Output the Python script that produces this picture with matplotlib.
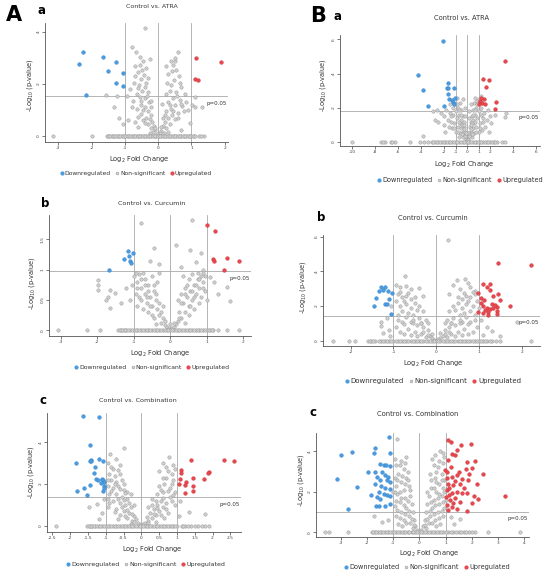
import matplotlib
matplotlib.use('Agg')
from matplotlib import pyplot as plt
from matplotlib.lines import Line2D
from matplotlib import transforms

W, H = 550, 579
BLUE = '#4a9be0'
RED = '#e8474c'
GREY_FACE = '#cfcfcf'
GREY_EDGE = '#9c9c9c'

# ---------------- A-a : Control vs. ATRA ----------------
aa_down_x = [-2.25, -2.37, -1.67, -1.28, -1.51, -1.07, -1.26, -1.07, -2.16]
aa_down_y = [3.22, 2.78, 3.04, 2.84, 2.52, 2.44, 2.06, 1.94, 1.59]
aa_up_x = [1.14, 1.88, 1.12, 1.21]
aa_up_y = [3.01, 2.84, 2.19, 2.14]
aa_ns_x = [-0.38, -0.79, -0.66, 0.59, -0.55, -0.45, 0.38, 0.45, -0.7, -0.35, 0.55, -0.6, -0.42, 0.3,
           -0.5, -0.3, 0.62, 0.48, -0.72, -0.58, -0.4, 0.4, 0.7, -0.85, -0.47, -0.3, 0.35, 0.55, -0.65,
           0.25, 0.8, -0.55, -0.38, 0.45, 0.65, -0.75, -0.28, 0.3, -0.5, 0.5, 0.72, -0.4, -0.62, 0.38,
           -0.3, 0.25, 0.6, -0.5, -0.22, 0.42, -0.35, 0.3, 0.52, -0.45, -0.18, 0.2, -0.3, 0.35, -0.12,
           0.15, -0.22, 0.25, -0.08, 0.1, -0.15, 0.05, -0.03, 0.18, -0.25, -1.56, -1.24, -0.95, -1.32,
           -1.19, -1.05, 1.10, 1.33, 1.12, 1.02, 0.9, 0.95, -0.6, 0.68, -0.2, 0.12, -0.9, 0.85,
           -0.52, -0.45, -0.6, -0.4, -0.25, -0.33, -0.6, -0.48, -0.7, -0.36, 0.28, 0.42, 0.5, 0.65,
           0.58, 0.35, 0.45, 0.6, 0.2, 0.3, -0.1, 0.08, -0.2, 0.7, 0.78, -0.78, -0.7, 0.15, -0.55,
           0.52, 0.25, -0.25]
aa_ns_y = [4.15, 3.41, 3.25, 3.22, 3.05, 2.9, 2.9, 2.75, 2.7, 2.6, 2.55, 2.45, 2.35, 2.4,
           2.2, 2.25, 2.3, 2.15, 2.05, 1.95, 1.9, 1.95, 1.9, 1.8, 1.75, 1.7, 1.75, 1.7, 1.6,
           1.6, 1.6, 1.5, 1.45, 1.45, 1.4, 1.35, 1.3, 1.3, 1.2, 1.2, 1.15, 1.1, 1.05, 1.05,
           0.95, 0.95, 0.9, 0.85, 0.8, 0.8, 0.7, 0.7, 0.65, 0.6, 0.55, 0.55, 0.45, 0.45, 0.4,
           0.38, 0.3, 0.3, 0.22, 0.2, 0.15, 0.12, 0.06, 0.1, 0.12, 1.56, 1.54, 1.55, 1.13,
           0.68, 0.45, 1.52, 1.13, 1.1, 1.2, 1.0, 0.5, 0.35, 0.25, 1.35, 1.25, 0.6, 1.3,
           1.35, 1.0, 0.75, 0.5, 0.65, 1.55, 1.85, 2.55, 2.3, 2.05, 2.05, 2.5, 2.9, 2.05,
           1.55, 1.2, 0.95, 0.7, 0.8, 0.15, 0.3, 0.35, 1.1, 1.25, 0.95, 1.1, 0.55, 0.7, 2.75,
           3.0, 2.7, 2.95]
aa_zero_x = [-3.15, -2.0, -1.55, -1.48, -1.4, -1.33, -1.25, -1.18, -1.1, -1.03, -0.95, -0.88, -0.8,
             -0.73, -0.65, -0.58, -0.5, -0.43, -0.35, -0.28, -0.2, -0.13, -0.05, 0.03, 0.1, 0.18,
             0.25, 0.33, 0.4, 0.48, 0.55, 0.63, 0.7, 0.78, 0.85, 0.93, 1.0, 1.08, 1.22, 1.38,
             -1.51, -1.44, -1.36, -1.29, -1.21, -1.14, -1.06, -0.99, -0.91, -0.84, -0.76, -0.69,
             -0.61, -0.54, -0.46, -0.39, -0.31, -0.24, -0.16, -0.09, -0.01, 0.06, 0.14, 0.21, 0.29,
             0.36, 0.44, 0.51, 0.59, 0.66, 0.74, 0.81, 0.89, 0.96, 1.04, 1.12, 1.3]

# ---------------- B-a : Control vs. ATRA ----------------
ba_down_x = [-2.07, -4.25, -3.84, -3.38, -1.99, -1.64, -1.75, -1.64, -1.17, -1.64, -1.55, -1.35,
             -1.2, -1.1, -1.05]
ba_down_y = [5.92, 3.93, 3.03, 2.09, 2.09, 3.42, 3.13, 3.17, 3.17, 2.83, 2.54, 2.45, 2.35, 2.25, 2.6]
ba_up_x = [3.30, 1.41, 1.93, 1.64, 1.15, 1.3, 1.45, 1.05, 2.49, 2.43, 1.2, 1.6]
ba_up_y = [4.75, 3.67, 3.65, 3.19, 2.4, 2.3, 2.5, 2.2, 2.31, 1.95, 2.6, 2.2]
ba_ns_x = [-1.8, -1.5, -1.2, -1.0, -0.8, -0.6, -0.9, -0.7, -0.5, -0.4, -0.3, -0.6, -0.8, -1.1, -1.4,
           -1.7, -2.0, -2.3, -2.6, -3.0, -3.82, -2.5, -0.5, -0.35, -0.2, -0.1, -0.25, -0.15, -0.4,
           -0.6, -1.0, -1.3, -0.7, 0.1, 0.2, 0.35, 0.5, 0.25, 0.15, 0.4, 0.6, 1.0, 0.3, 0.4, 0.5, 0.6,
           0.8, 1.0, 0.7, 0.9, 1.2, 1.5, 1.8, 0.6, 0.8, 1.1, 1.4, 1.7, 2.0, 2.4, 0.7, 1.2, 0.9, -1.1,
           -0.4, 3.3, 3.4, -0.05, 0.05, 1.3, 1.6, -1.6, -2.0, 2.1, -0.9, 0.3, -0.2, 0.2, -0.45, 0.45,
           -0.3, -0.5, -0.7, -0.9, -1.2, -1.5, -0.45, -0.15, -0.8, -1.1, -1.9, -2.8, 0.3, 0.5, 0.7,
           0.9, 1.2, 0.45, 0.15, 0.8, 1.1, 1.9, 0.55, -0.55, -0.3, 0.3, 0.7, -0.7, 0.1, -0.1, 1.0,
           -0.2, 0.2, -1.4, 1.4]
ba_ns_y = [1.9, 1.7, 1.6, 1.8, 2.0, 2.3, 1.4, 1.6, 1.9, 1.5, 1.2, 1.1, 0.9, 1.1, 1.2,
           1.3, 1.5, 1.7, 1.9, 1.8, 0.33, 1.2, 0.8, 0.6, 0.4, 0.2, 0.9, 0.6, 0.3,
           0.5, 0.6, 0.8, 0.3, 0.2, 0.4, 0.6, 0.8, 0.9, 0.5, 0.3, 0.5, 0.6, 1.2, 1.5, 1.9, 2.3,
           2.0, 1.8, 1.6, 1.4, 1.6, 1.7, 1.9, 1.1, 0.9, 1.1, 1.2, 1.3, 1.5, 1.6, 2.6, 2.7, 2.4, 2.2,
           2.5, 1.47, 1.7, 0.05, 0.1, 0.7, 0.9, 0.9, 1.0, 1.1, 2.6, 2.2, 1.5, 1.4, 1.0, 1.1,
           1.0, 1.3, 1.9, 2.2, 2.0, 2.2, 0.45, 0.35, 0.6, 0.8, 0.6, 1.3, 1.0, 1.3, 1.9,
           2.2, 2.0, 0.45, 0.35, 0.6, 0.8, 0.6, 1.6, 1.6, 0.75, 0.75, 1.2, 1.2, 0.5, 0.5, 2.5,
           2.0, 1.8, 1.5, 1.4]
ba_zero_x = [-10, -7.5, -7.15, -6.66, -6.28, -4.98, -4.1, -3.73, -3.44, -3.1, -2.8, -2.5, -2.2, -1.9,
             -1.6, -1.3, -1.0, -0.7, -0.4, -0.1, 0.2, 0.5, 0.8, 1.1, 1.4, 1.7, 2.0, 2.3, 2.6, 3.0, 3.3,
             -2.95, -2.65, -2.35, -2.05, -1.75, -1.45, -1.15, -0.85, -0.55, -0.25, 0.05, 0.35, 0.65,
             0.95, 1.25, 1.55, 1.85, 2.15, 2.45, -7.3, -6.5]

# ---------------- A-b : Control vs. Curcumin ----------------
ab_down_x = [-1.15, -1.26, -1.13, -1.02, -1.10, -1.07, -1.67]
ab_down_y = [1.31, 1.17, 1.22, 1.28, 1.15, 1.11, 0.99]
ab_up_x = [1.0, 1.23, 1.18, 1.20, 1.54, 1.89, 1.48]
ab_up_y = [1.73, 1.64, 1.17, 1.15, 1.19, 1.15, 1.0]
ab_ns_x = [-0.81, 0.59, 0.16, -0.44, 0.54, 0.83, -0.3, 0.3, -0.55, 0.7, 0.9,
           -1.99, -1.99, -1.99, -1.65, -1.5, -1.7, -1.75, -1.65, -1.35, 1.63, 1.55, 1.2, 1.3, 1.1,
           -1.0, -0.9, -1.05, -0.85, -0.7, -0.8, -0.95, -0.6, -0.7, -0.55, -0.8, -0.65, -0.45, -0.5,
           -0.4, -0.35, -0.6, -0.3, -0.45, -0.2, -0.25, -0.15, -0.1, -0.35, -0.5, -0.2, -0.75, -0.9,
           0.05, 0.1, 0.15, 0.2, 0.3, 0.25, 0.4, 0.35, 0.5, 0.45, 0.6, 0.55, 0.7, 0.65, 0.8, 0.75,
           0.9, 0.85, 0.95, 0.4, 0.2, 0.5, 0.3, 0.65, 0.8, 0.95, 0.6, -0.05, 0.0, -0.4, 0.4,
           -0.95, -0.75, -0.9, -0.85, -0.7, -0.6, -0.55, -0.4, -0.3, -0.25, -0.5, -0.65, -0.8, -0.45,
           0.9, 0.75, 0.9, 0.85, 0.7, 0.6, 0.55, 0.4, 0.3, 0.25, 0.5, 0.65, 0.8, 0.45, -0.15, 0.1,
           -1.1, -1.2, 1.0, 0.35, -0.3]
ab_ns_y = [1.77, 1.81, 1.41, 1.35, 1.32, 1.27, 1.1, 1.05, 1.15, 1.12, 1.0,
           0.83, 0.74, 0.66, 0.67, 0.62, 0.55, 0.5, 0.36, 0.45, 0.49, 0.72, 0.8, 0.6, 0.88,
           0.9, 0.8, 0.75, 0.92, 0.85, 0.7, 0.6, 0.75, 0.6, 0.55, 0.5, 0.45, 0.65, 0.4,
           0.5, 0.35, 0.3, 0.25, 0.2, 0.2, 0.12, 0.08, 0.05, 0.8, 0.9, 0.4, 0.35, 0.4,
           0.03, 0.06, 0.1, 0.15, 0.2, 0.3, 0.3, 0.45, 0.4, 0.55, 0.5, 0.65, 0.6, 0.75, 0.7, 0.85,
           0.8, 0.9, 0.65, 0.7, 0.5, 0.85, 0.6, 0.35, 0.45, 0.9, 0.92, 0.02, 0.1, 0.1, 0.12,
           0.95, 0.95, 0.7, 0.55, 0.75, 0.65, 0.4, 0.6, 0.45, 0.3, 0.25, 0.55, 0.85, 0.75,
           0.95, 0.95, 0.7, 0.55, 0.75, 0.65, 0.4, 0.6, 0.45, 0.2, 0.25, 0.55, 0.85, 0.75, 0.15, 0.12,
           0.5, 0.7, 0.5, 0.9, 0.95]
ab_zero_x = [-3.06, -2.29, -1.92, -1.42, -1.35, -1.28, -1.2, -1.1, -1.0, -0.9, -0.8, -0.7, -0.6,
             -0.5, -0.4, -0.3, -0.2, -0.1, 0.0, 0.1, 0.2, 0.3, 0.4, 0.5, 0.6, 0.7, 0.8, 0.9, 1.0,
             1.1, 1.18, 1.32, 1.54, 1.89, -1.38, -1.31, -1.24, -1.15, -1.05, -0.95, -0.85, -0.75,
             -0.65, -0.55, -0.45, -0.35, -0.25, -0.15, -0.05, 0.05, 0.15, 0.25, 0.35, 0.45, 0.55,
             0.65, 0.75, 0.85, 0.95, 1.05, 1.14]

# ---------------- B-b : Control vs. Curcumin ----------------
bb_down_x = [-1.30, -1.19, -1.34, -1.24, -1.13, -1.03, -1.42, -1.10, -1.20, -1.16, -1.45, -1.05]
bb_down_y = [3.13, 3.13, 2.85, 2.94, 2.88, 2.75, 2.46, 2.40, 2.13, 2.13, 2.0, 1.54]
bb_up_x = [1.44, 2.23, 0.98, 1.10, 1.26, 1.04, 1.12, 1.20, 1.26, 1.34, 1.44, 1.10, 1.18, 1.26,
           1.34, 1.22, 1.42, 1.73, 0.98, 1.10, 1.22, 1.42, 1.43, 1.05, 1.30, 1.50, 1.15, 1.38]
bb_up_y = [4.48, 4.38, 2.75, 3.29, 3.29, 2.46, 2.37, 3.08, 2.92, 2.60, 2.71, 2.00, 1.90, 1.81,
           1.87, 1.67, 1.94, 1.98, 1.65, 1.63, 1.50, 1.73, 1.56, 2.20, 2.15, 2.35, 1.80, 2.05]
bb_ns_x = [0.28, -0.72, 0.48, 0.67, 0.75, -0.95, -0.85, -0.7, -0.6, -0.4, 0.4, 0.55, 0.8, 0.9,
           -0.9, -0.8, -0.7, -0.6, -0.5, -0.95, -0.85, -0.7, -0.6, -0.45, -0.3, -0.8, -0.9, -0.7,
           -0.55, -0.4, -0.25, -0.6, -0.8, -0.45, -0.3, -0.2, -0.65, -0.5, -0.35, -0.15, -0.1, -0.25,
           -0.75, -0.95, 0.1, 0.15, 0.25, 0.2, 0.35, 0.5, 0.3, 0.45, 0.65, 0.75, 0.25, 0.4, 0.55,
           0.6, 0.8, 0.7, 0.9, 0.3, 0.45, 0.6, 0.8, 0.7, 0.85, 0.95, 0.5, 0.6, 0.7, 0.8, 0.9, 0.95,
           -1.3, -1.3, -1.25, -1.1, -1.08, 1.9, 1.5, 1.2, 1.3, 1.1, -1.15, 1.05, -0.05, 0.05,
           -0.35, 0.35, -0.55, 0.55, -0.2, 0.2,
           -0.85, -0.75, -0.65, -0.5, -0.4, -0.55, -0.35, -0.9, -0.75, -0.6, -0.45, -0.3, -0.85,
           -0.65, -0.2, 0.85, 0.75, 0.65, 0.5, 0.4, 0.55, 0.35, 0.9, 0.75, 0.6, 0.45, 0.3, 0.85,
           0.65, 0.2, -0.3, 0.3, -1.05, 1.0, -0.1, 0.1]
bb_ns_y = [5.79, 3.71, 3.52, 3.56, 3.35, 3.2, 3.1, 3.15, 3.0, 3.05, 3.2, 3.0, 3.1, 2.9,
           2.7, 2.5, 2.6, 2.4, 2.2, 2.3, 2.0, 2.1, 1.9, 1.8, 1.7, 1.7, 1.5, 1.4,
           1.5, 1.3, 1.2, 1.1, 1.1, 0.9, 0.8, 0.6, 0.7, 0.5, 0.4, 0.3, 0.15, 0.2,
           0.4, 0.8, 0.15, 0.3, 0.2, 0.6, 0.4, 0.5, 0.8, 0.9, 0.7, 0.4, 1.2, 1.3, 1.5,
           1.1, 1.1, 1.4, 1.5, 1.7, 1.8, 1.9, 1.7, 2.1, 2.0, 2.3, 2.2, 2.4, 2.6, 2.5, 2.7, 0.8,
           1.1, 0.83, 0.44, 0.6, 0.25, 1.08, 0.3, 0.8, 0.55, 0.35, 1.3, 1.2, 0.05, 0.08,
           1.0, 1.0, 1.0, 1.0, 0.35, 0.4,
           2.8, 2.3, 2.75, 2.5, 2.0, 1.2, 1.0, 1.2, 0.95, 0.35, 0.25, 0.5, 0.5,
           1.6, 1.0, 2.8, 2.3, 2.75, 2.5, 2.0, 1.2, 1.0, 1.2, 0.95, 0.35, 0.25, 0.5, 0.5,
           1.6, 1.0, 2.6, 2.7, 2.0, 1.9, 0.4, 0.45]
bb_zero_x = [-2.41, -2.05, -1.9, -1.6, -1.52, -1.44, -1.3, -1.2, -1.1, -1.0, -0.9, -0.8, -0.7,
             -0.6, -0.5, -0.4, -0.3, -0.2, -0.1, 0.0, 0.1, 0.2, 0.3, 0.4, 0.5, 0.6, 0.7, 0.8,
             0.9, 1.0, 1.1, 1.2, 1.3, 1.5, 2.23, -1.56, -1.48, -1.35, -1.25, -1.15, -1.05, -0.95,
             -0.85, -0.75, -0.65, -0.55, -0.45, -0.35, -0.25, -0.15, -0.05, 0.05, 0.15, 0.25,
             0.35, 0.45, 0.55, 0.65, 0.75, 0.85, 0.95, 1.05, 1.15, 1.25, 1.4]

# ---------------- A-c : Control vs. Combination ----------------
ac_down_x = [-1.65, -1.18, -1.44, -1.84, -1.42, -1.45, -1.40, -1.18, -1.09, -1.31, -1.33, -1.26,
             -1.23, -1.10, -1.07, -1.05, -1.12, -1.82, -1.62, -1.43, -1.52, -1.09, -1.04, -1.06]
ac_down_y = [5.24, 5.19, 3.87, 2.99, 3.15, 3.10, 3.08, 3.18, 3.10, 2.80, 2.51, 2.22,
             2.18, 2.22, 2.20, 2.10, 2.05, 1.65, 1.83, 1.94, 1.45, 1.65, 1.90, 1.80]
ac_up_x = [1.40, 2.31, 2.59, 1.12, 1.12, 1.89, 1.86, 1.45, 1.77, 1.09, 1.26, 1.23, 1.07, 1.45,
           1.45, 1.23]
ac_up_y = [3.15, 3.15, 3.08, 2.67, 2.51, 2.59, 2.54, 2.30, 2.26, 2.23, 2.10, 1.94, 1.98, 1.90,
           1.67, 1.59]
ac_ns_x = [-0.49, -0.88, 0.79, -0.7, -0.95, -0.6, -0.8, 0.6, 0.7, 0.5, 0.9,
           -0.9, -0.75, -0.6, -0.85, -0.7, -0.55, -0.95, -0.8, -0.65, -0.5, -0.9, -0.7, -0.55, -0.4,
           -0.8, -0.6, -0.45, -0.3, -0.7, -0.5, -0.35, -0.2, -0.6, -0.4, -0.25, -0.1, -0.15, -0.3,
           -0.05, 0.05, 0.1, 0.2, 0.15, 0.3, 0.25, 0.4, 0.35, 0.5, 0.45, 0.6, 0.55, 0.7, 0.3, 0.45,
           0.6, 0.8, 0.5, 0.65, 0.8, 0.9, 0.7, 0.85, 0.95, 0.95, 0.75, -0.95, -1.47, -1.24, -1.18,
           1.8, 1.33, -1.05, 1.1, -1.1, 1.05, 0.2, -0.2, -0.65, 0.4, -0.4, 0.65,
           -0.85, -0.65, -0.75, -0.6, -0.85, -0.45, -0.65, -0.9, -0.5, -0.35, -0.55, -0.4, -0.25,
           -0.75, -0.45, -0.2, 0.2, 0.35, 0.55, 0.45, 0.6, 0.7, 0.85, 0.75, 0.55, 0.4, 0.85, 0.6,
           0.75, 0.9, -0.95, -0.95, -0.3, 0.3, 0.95, -0.5]
ac_ns_y = [3.71, 3.44, 3.28, 3.2, 3.0, 2.9, 2.7, 3.0, 2.8, 2.6, 2.9,
           2.5, 2.4, 2.5, 2.2, 2.1, 2.2, 1.9, 1.8, 1.9, 1.7, 1.5, 1.5, 1.4, 1.3,
           1.2, 1.1, 1.0, 0.9, 0.8, 0.7, 0.6, 0.45, 0.5, 0.35, 0.25, 0.15, 0.3, 0.1,
           0.05, 0.06, 0.15, 0.25, 0.4, 0.35, 0.6, 0.5, 0.8, 0.7, 1.0, 0.9, 1.2, 1.1, 1.3, 1.5,
           1.6, 1.4, 1.9, 2.0, 1.8, 2.2, 2.3, 2.5, 1.6, 1.0, 0.6, 0.9, 0.9, 1.06, 0.34,
           0.58, 0.66, 1.3, 1.2, 0.6, 0.45, 0.9, 1.0, 0.3, 0.2, 1.6, 0.35,
           2.8, 2.65, 2.0, 1.75, 1.65, 1.55, 1.3, 1.1, 1.25, 1.1, 0.9, 0.75, 0.55,
           0.65, 0.45, 0.2, 0.15, 0.55, 0.5, 0.85, 1.35, 0.8, 1.2, 1.65, 1.7, 1.2, 2.0, 2.3,
           2.6, 1.45, 2.2, 1.3, 1.5, 1.0, 2.7, 2.0]
ac_zero_x = [-2.41, -1.52, -1.45, -1.38, -1.3, -1.2, -1.1, -1.0, -0.9, -0.8, -0.7, -0.6, -0.5,
             -0.4, -0.3, -0.2, -0.1, 0.0, 0.1, 0.2, 0.3, 0.4, 0.5, 0.6, 0.7, 0.8, 0.9, 1.0,
             1.14, 1.22, 1.4, 1.6, 1.8, 1.89, -1.48, -1.42, -1.34, -1.25, -1.15, -1.05, -0.95,
             -0.85, -0.75, -0.65, -0.55, -0.45, -0.35, -0.25, -0.15, -0.05, 0.05, 0.15, 0.25,
             0.35, 0.45, 0.55, 0.65, 0.75, 0.85, 0.95, 1.18, 1.3, 1.5, 1.7]

# ---------------- B-c : Control vs. Combination ----------------
bc_down_x = [-1.15, -3.0, -2.58, -1.69, -1.73, -1.14, -3.13, -2.38, -1.84, -2.73,
             -1.50, -1.37, -1.27, -1.12, -1.97, -1.69, -1.43, -1.31, -1.18, -1.63, -1.50, -1.24,
             -1.12, -1.69, -1.46, -1.31, -1.12, -1.56, -1.37, -1.24, -1.12, -1.63, -1.50, -1.66,
             -1.54, -1.31, -1.12]
bc_down_y = [4.7, 3.8, 3.97, 4.16, 3.92, 3.92, 2.65, 2.24, 1.83, 1.14,
             3.39, 3.31, 3.31, 3.26, 2.99, 2.99, 2.98, 2.81, 2.73, 2.73, 2.57, 2.57,
             2.49, 2.37, 2.27, 2.21, 2.16, 1.99, 1.91, 1.83, 1.78, 1.74, 1.66, 1.28,
             1.28, 1.28, 1.42]
bc_up_x = [1.11, 1.21, 1.98, 1.43, 1.24, 1.37, 1.6, 1.11, 1.81, 2.13, 1.77, 2.0, 2.45, 0.98, 1.05,
           1.24, 1.43, 1.62, 1.87, 1.11, 1.3, 1.56, 2.19, 3.27, 2.1, 2.26, 1.05, 1.24, 1.43, 1.62,
           1.81, 1.02, 1.18, 1.37, 1.56, 2.0, 1.05, 1.24, 1.11, 1.43, 1.81, 1.15, 1.35, 1.5, 1.7,
           1.2, 1.05, 1.9, 1.3, 1.15]
bc_up_y = [4.54, 4.46, 4.35, 4.05, 3.88, 3.8, 4.3, 3.56, 3.47, 3.5, 3.14, 3.19, 2.9, 3.06, 2.98,
           2.73, 2.81, 2.65, 2.57, 2.4, 2.32, 2.37, 2.4, 1.79, 1.79, 1.66, 2.07, 1.95, 2.0, 1.92,
           1.95, 1.73, 1.6, 1.68, 1.5, 1.45, 1.34, 1.25, 1.08, 1.17, 1.04, 2.2, 2.55, 3.0, 2.2,
           3.2, 2.7, 2.9, 1.45, 1.85]
bc_ns_x = [-0.86, 0.8, 0.6, 0.5, -0.5, -0.7, -0.9, 0.9, 0.7, -0.6, -0.8, -0.95, 0.85, 0.95, -0.5,
           -0.7, -0.9, 0.6, 0.75, 0.9, -0.4, -0.6, -0.85, 0.45, 0.65, 0.85, -0.35, -0.55, -0.75,
           -0.95, 0.35, 0.55, 0.75, 0.95, -0.3, -0.5, -0.7, -0.9, 0.3, 0.5, 0.7, 0.9, -0.25, -0.4,
           -0.6, 0.25, 0.4, 0.6, -0.2, -0.35, 0.2, 0.35, -0.15, 0.15, -0.08, 0.08, -0.8, 0.8, -1.75,
           -1.43, -1.2, 1.34, 1.55, 1.2, -0.45, 0.4, -1.0, 1.0, -0.25, 0.25, -0.65, 0.65,
           -0.95, -0.75, -0.55, -0.85, -0.65, -0.45, -0.95, -0.75, -0.55, -0.7, -0.9, -0.45, -0.6,
           -0.85, -0.4, -0.55, -0.75, -0.3, -0.5, -0.2, 0.95, 0.75, 0.55, 0.85, 0.65, 0.45, 0.95,
           0.75, 0.55, 0.7, 0.9, 0.45, 0.6, 0.85, 0.4, 0.55, 0.75, 0.3, 0.5, 0.2, 0.65, -0.35, 0.3,
           0.9]
bc_ns_y = [4.59, 4.0, 3.8, 3.6, 3.7, 3.5, 3.3, 3.4, 3.2, 3.1, 2.9, 2.7, 2.9, 2.6, 2.7,
           2.5, 2.3, 2.7, 2.4, 2.2, 2.3, 2.1, 1.9, 2.2, 2.0, 1.8, 1.8, 1.7, 1.5,
           1.3, 1.8, 1.6, 1.4, 1.2, 1.4, 1.2, 1.0, 0.8, 1.4, 1.2, 1.0, 0.8, 1.0, 0.8,
           0.6, 1.0, 0.8, 0.6, 0.6, 0.45, 0.6, 0.45, 0.3, 0.3, 0.12, 0.12, 0.4, 0.4, 0.79,
           0.5, 0.6, 0.4, 0.68, 0.75, 3.0, 2.9, 2.0, 1.6, 0.2, 0.2, 0.3, 0.3,
           3.6, 3.3, 3.4, 2.6, 2.8, 2.6, 2.0, 2.0, 2.4, 1.7, 1.55, 1.55, 1.35,
           1.1, 1.05, 0.9, 0.7, 0.65, 0.45, 0.35, 3.7, 3.5, 3.3, 2.6, 2.5, 2.6, 2.0,
           1.9, 2.2, 1.7, 1.5, 1.5, 1.35, 1.05, 1.05, 0.9, 0.7, 0.65, 0.45, 0.35, 3.0, 2.1, 2.0,
           3.9]
bc_zero_x = [-3.6, -3.47, -2.71, -1.82, -1.7, -1.58, -1.45, -1.3, -1.18, -1.05, -0.9, -0.75, -0.6,
             -0.45, -0.3, -0.15, 0.0, 0.15, 0.3, 0.45, 0.6, 0.75, 0.9, 1.1, 1.3, 1.5, 1.7, 1.9,
             2.13, 2.64, 3.85, -1.76, -1.64, -1.52, -1.38, -1.24, -1.12, -0.98, -0.83, -0.68,
             -0.53, -0.38, -0.23, -0.08, 0.08, 0.23, 0.38, 0.53, 0.68, 0.83, 1.0, 1.2, 1.4, 1.6,
             1.8, 2.0]

titles = ['Control vs. ATRA', 'Control vs. Curcumin', 'Control vs. Combination']


def box(l, r, t, b):
    return [l / W, 1 - b / H, (r - l) / W, (b - t) / H]


def ftxt(x, y, s, **kw):
    fig.text(x / W, 1 - y / H, s, **kw)


fig = plt.figure(figsize=(W / 100, H / 100), dpi=100)

panels = [
    dict(b=(45, 228, 23, 142), xl=(-3.4, 2.1), yl=(-0.23, 4.35), xt=[-3, -2, -1, 0, 1, 2],
         yt=[0, 2, 4], thr=1.53, d=(aa_ns_x, aa_ns_y, aa_zero_x, aa_down_x, aa_down_y, aa_up_x, aa_up_y),
         tt=(152, 7, titles[0]), tfs=4.5, let=(42, 11, 'a'), xlab=(139, 160), ylab=(30, 85),
         leg=(136, 173), lfs=4.3),
    dict(b=(340, 540, 35, 146), xl=(-11.07, 6.35), yl=(-0.23, 6.25),
         xt=[-10, -8, -6, -4, -2, -1, 0, 1, 2, 4, 6], yt=[0, 2, 4, 6], thr=1.83,
         d=(ba_ns_x, ba_ns_y, ba_zero_x, ba_down_x, ba_down_y, ba_up_x, ba_up_y),
         tt=(462, 18, titles[0]), tfs=4.8, let=(337, 17, 'a'), xlab=(464, 165), ylab=(323, 85),
         leg=(460, 180), lfs=4.7),
    dict(b=(49, 251, 215, 336), xl=(-3.32, 2.21), yl=(-0.094, 1.9), xt=[-3, -2, -1, 0, 1, 2],
         yt=[0, 0.5, 1, 1.5], thr=0.98,
         d=(ab_ns_x, ab_ns_y, ab_zero_x, ab_down_x, ab_down_y, ab_up_x, ab_up_y),
         tt=(152, 203, titles[1]), tfs=4.6, let=(45, 204, 'b'), xlab=(160, 354), ylab=(32, 283),
         leg=(152, 367), lfs=4.4),
    dict(b=(323, 540, 235, 346), xl=(-2.65, 2.43), yl=(-0.3, 6.1), xt=[-2, -1, 0, 1, 2],
         yt=[0, 2, 4, 6], thr=1.44,
         d=(bb_ns_x, bb_ns_y, bb_zero_x, bb_down_x, bb_down_y, bb_up_x, bb_up_y),
         tt=(433, 218, titles[1]), tfs=4.8, let=(321, 217, 'b'), xlab=(433, 364), ylab=(303, 287),
         leg=(433, 381), lfs=5.0),
    dict(b=(47, 241, 413, 532), xl=(-2.65, 2.8), yl=(-0.3, 5.4),
         xt=[-2.5, -2, -1.5, -1, -0.5, 0, 0.5, 1, 1.5, 2, 2.5], yt=[0, 2, 4], thr=1.38,
         d=(ac_ns_x, ac_ns_y, ac_zero_x, ac_down_x, ac_down_y, ac_up_x, ac_up_y),
         tt=(138, 400, titles[2]), tfs=4.6, let=(43, 400, 'c'), xlab=(152, 550), ylab=(31, 472),
         leg=(146, 564), lfs=4.5),
    dict(b=(316, 529, 433, 537), xl=(-3.95, 4.19), yl=(-0.23, 4.9), xt=[-3, -2, -1, 0, 1, 2, 3, 4],
         yt=[0, 2, 4], thr=0.99,
         d=(bc_ns_x, bc_ns_y, bc_zero_x, bc_down_x, bc_down_y, bc_up_x, bc_up_y),
         tt=(418, 414, titles[2]), tfs=4.9, let=(313, 413, 'c'), xlab=(429, 554), ylab=(301, 480),
         leg=(427, 567), lfs=4.7),
]

for p in panels:
    ax = fig.add_axes(box(*p['b']))
    ns_x, ns_y, zero_x, dn_x, dn_y, up_x, up_y = p['d']
    for v in (-1, 0, 1):
        ax.axvline(v, color='#a8a8a8', lw=0.6, zorder=1)
    ax.axhline(p['thr'], color='#a8a8a8', lw=0.6, zorder=1)
    ax.scatter(ns_x, ns_y, s=6, facecolor=GREY_FACE, edgecolor=GREY_EDGE, linewidths=0.35, zorder=2)
    ax.scatter(zero_x, [0] * len(zero_x), s=6, facecolor=GREY_FACE, edgecolor=GREY_EDGE,
               linewidths=0.35, zorder=2)
    ax.scatter(dn_x, dn_y, s=7, color=BLUE, edgecolor='#2f7fc8', linewidths=0.3, zorder=3)
    ax.scatter(up_x, up_y, s=7, color=RED, edgecolor='#c9303a', linewidths=0.3, zorder=3)
    ax.set_xlim(*p['xl'])
    ax.set_ylim(*p['yl'])
    ax.set_xticks(p['xt'])
    ax.set_xticklabels([('%g' % t) for t in p['xt']])
    ax.set_yticks(p['yt'])
    ax.set_yticklabels([('%g' % t) for t in p['yt']], rotation=90, va='center')
    ax.tick_params(labelsize=3.2, length=2, width=0.5, pad=1.2, colors='#444444')
    for s in ('top', 'right'):
        ax.spines[s].set_visible(False)
    for s in ('left', 'bottom'):
        ax.spines[s].set_color('#555555')
        ax.spines[s].set_linewidth(0.6)
    trans = transforms.blended_transform_factory(ax.transAxes, ax.transData)
    ax.text(0.995, p['thr'] - (p['yl'][1] - p['yl'][0]) * 0.04, 'p=0.05', transform=trans,
            ha='right', va='top', fontsize=4, color='#333333')

    tx, ty, ts = p['tt']
    ftxt(tx, ty, ts, ha='center', va='center', fontsize=p['tfs'], color='#333333')
    lx, ly, ls = p['let']
    ftxt(lx, ly, ls, ha='center', va='center', fontsize=8.5, fontweight='bold')
    ftxt(*p['xlab'], 'Log$_2$ Fold Change', ha='center', va='center', fontsize=4.8, color='#333333')
    ftxt(*p['ylab'], '-Log$_{10}$ (p-value)', ha='center', va='center', fontsize=4.8,
         rotation=90, color='#333333')

    handles = [Line2D([], [], marker='o', ls='', ms=2, color=BLUE),
               Line2D([], [], marker='o', ls='', ms=2, markerfacecolor=GREY_FACE,
                      markeredgecolor=GREY_EDGE, markeredgewidth=0.4),
               Line2D([], [], marker='o', ls='', ms=2, color=RED)]
    gx, gy = p['leg']
    fig.legend(handles, ['Downregulated', 'Non-significant', 'Upregulated'], loc='center',
               bbox_to_anchor=(gx / W, 1 - gy / H), ncol=3, frameon=False, fontsize=p['lfs'],
               handlelength=0.5, handletextpad=0.25, columnspacing=0.8, borderpad=0,
               labelcolor='#333333')

ftxt(14, 15, 'A', ha='center', va='center', fontsize=15, fontweight='bold')
ftxt(318, 16, 'B', ha='center', va='center', fontsize=15, fontweight='bold')

fig.savefig('out.png', dpi=100)
